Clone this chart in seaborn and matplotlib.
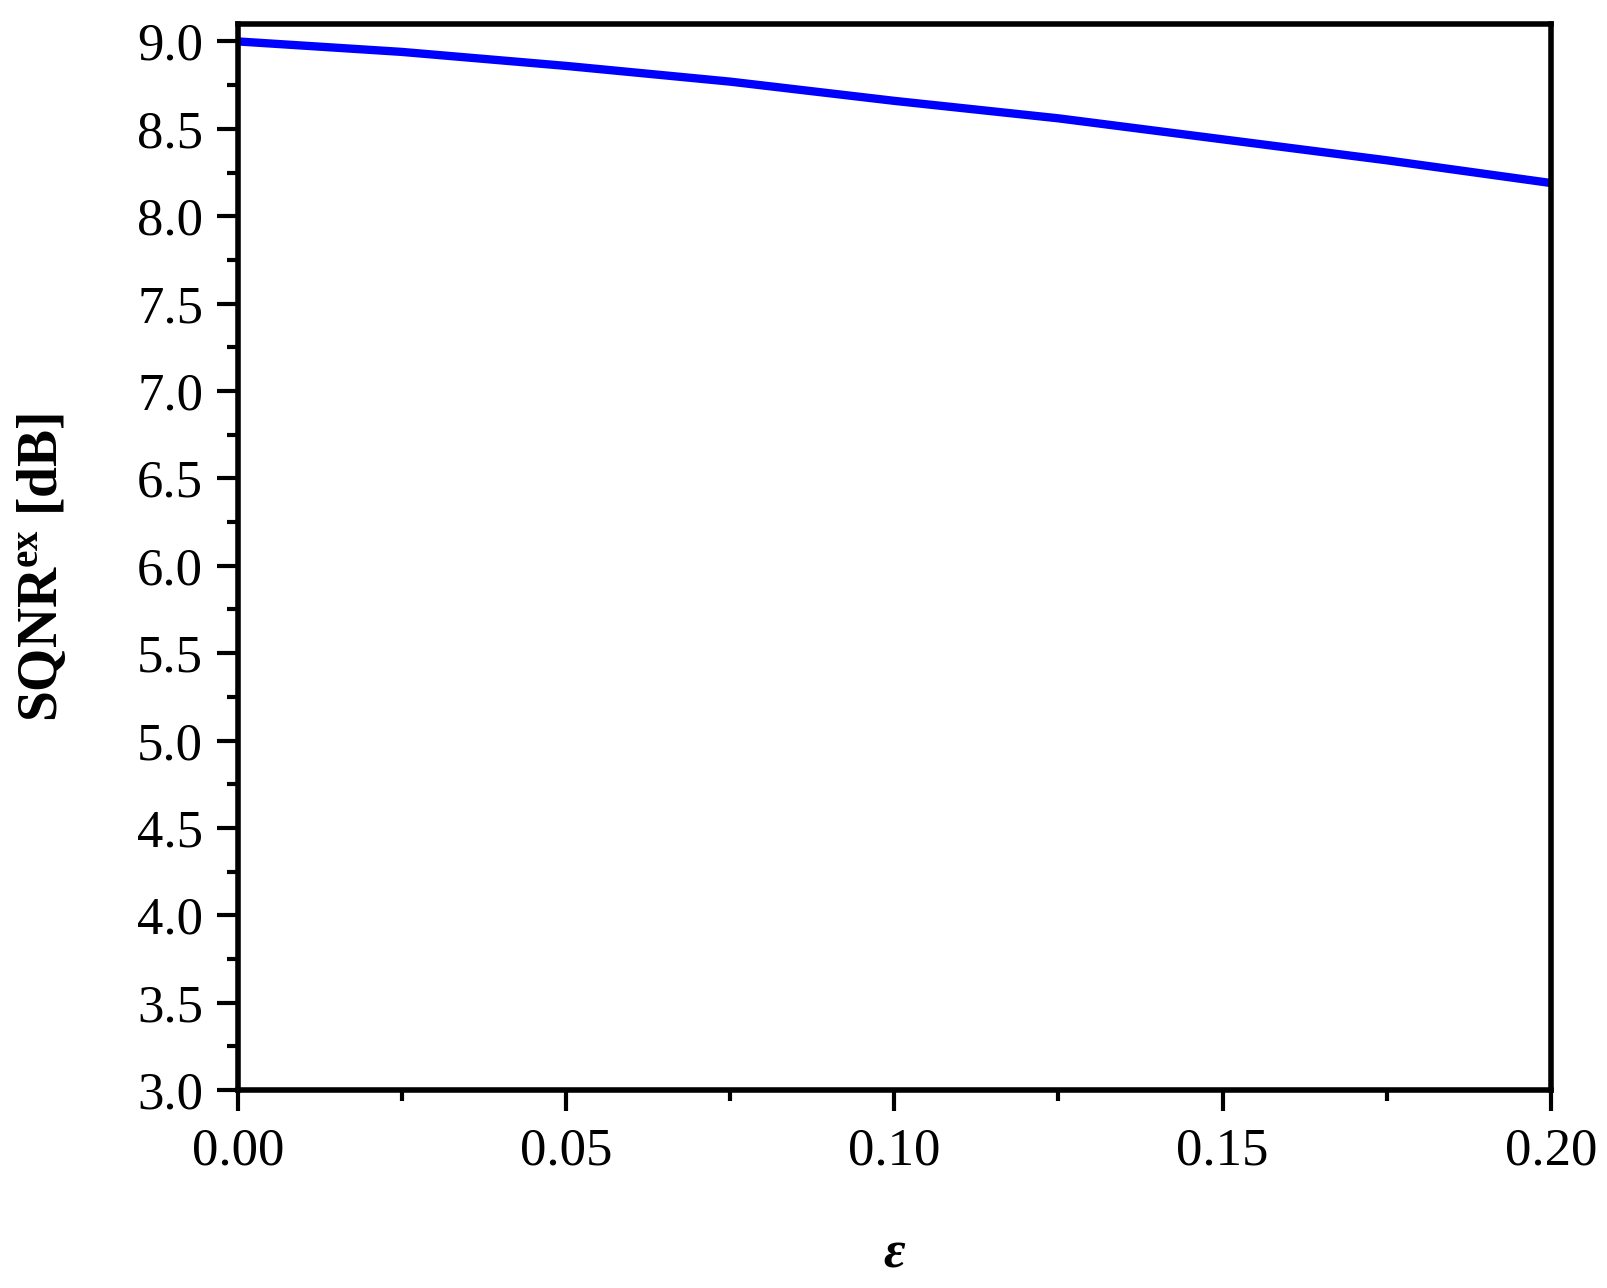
import numpy as np
import pandas as pd
import seaborn as sns
import matplotlib.pyplot as plt
from matplotlib.ticker import MultipleLocator, FormatStrFormatter

# values
eps = [0.0, 0.025, 0.05, 0.075, 0.10, 0.125, 0.15, 0.175, 0.20]
sqnr = [9.00, 8.94, 8.86, 8.77, 8.66, 8.56, 8.44, 8.32, 8.19]

df = pd.DataFrame({'eps': eps, 'sqnr': sqnr})

sns.set_style('ticks')
plt.rcParams['font.family'] = ['Liberation Serif', 'DejaVu Serif']
plt.rcParams['mathtext.fontset'] = 'custom'
plt.rcParams['mathtext.rm'] = 'Liberation Serif'
plt.rcParams['mathtext.bf'] = 'Liberation Serif:bold'
plt.rcParams['mathtext.it'] = 'Liberation Serif:italic'
plt.rcParams['text.color'] = 'black'
plt.rcParams['axes.labelcolor'] = 'black'
plt.rcParams['axes.edgecolor'] = 'black'
plt.rcParams['xtick.color'] = 'black'
plt.rcParams['ytick.color'] = 'black'

fig = plt.figure(figsize=(16.07, 12.88), dpi=100)
ax = fig.add_axes([0.148, 0.1537, 0.817, 0.8277])

sns.lineplot(data=df, x='eps', y='sqnr', ax=ax, color='#0000FF', linewidth=6)

ax.set_xlim(0, 0.20)
ax.set_ylim(3.0, 9.1)
ax.xaxis.set_major_locator(MultipleLocator(0.05))
ax.xaxis.set_minor_locator(MultipleLocator(0.025))
ax.yaxis.set_major_locator(MultipleLocator(0.5))
ax.yaxis.set_minor_locator(MultipleLocator(0.25))
ax.xaxis.set_major_formatter(FormatStrFormatter('%.2f'))
ax.yaxis.set_major_formatter(FormatStrFormatter('%.1f'))

for s in ax.spines.values():
    s.set_linewidth(4)
    s.set_color('black')
    s.set_visible(True)
ax.tick_params(which='major', direction='out', length=15, width=3, labelsize=38,
               top=False, right=False, colors='black')
ax.tick_params(which='minor', direction='out', length=8, width=3,
               top=False, right=False, colors='black')
ax.tick_params(axis='y', which='major', pad=10)
ax.tick_params(axis='x', which='major', pad=12)

ax.set_xlabel('ε', fontsize=38, fontweight='bold', fontstyle='italic')
ax.xaxis.set_label_coords(0.5, -0.132)
ax.set_ylabel(r'SQNR$^{\mathbf{ex}}$ [dB]', fontsize=40, fontweight='bold', va='center')
ax.yaxis.set_label_coords(-0.1485, 0.49)
ax.grid(False)

plt.savefig('out.png', dpi=100)
